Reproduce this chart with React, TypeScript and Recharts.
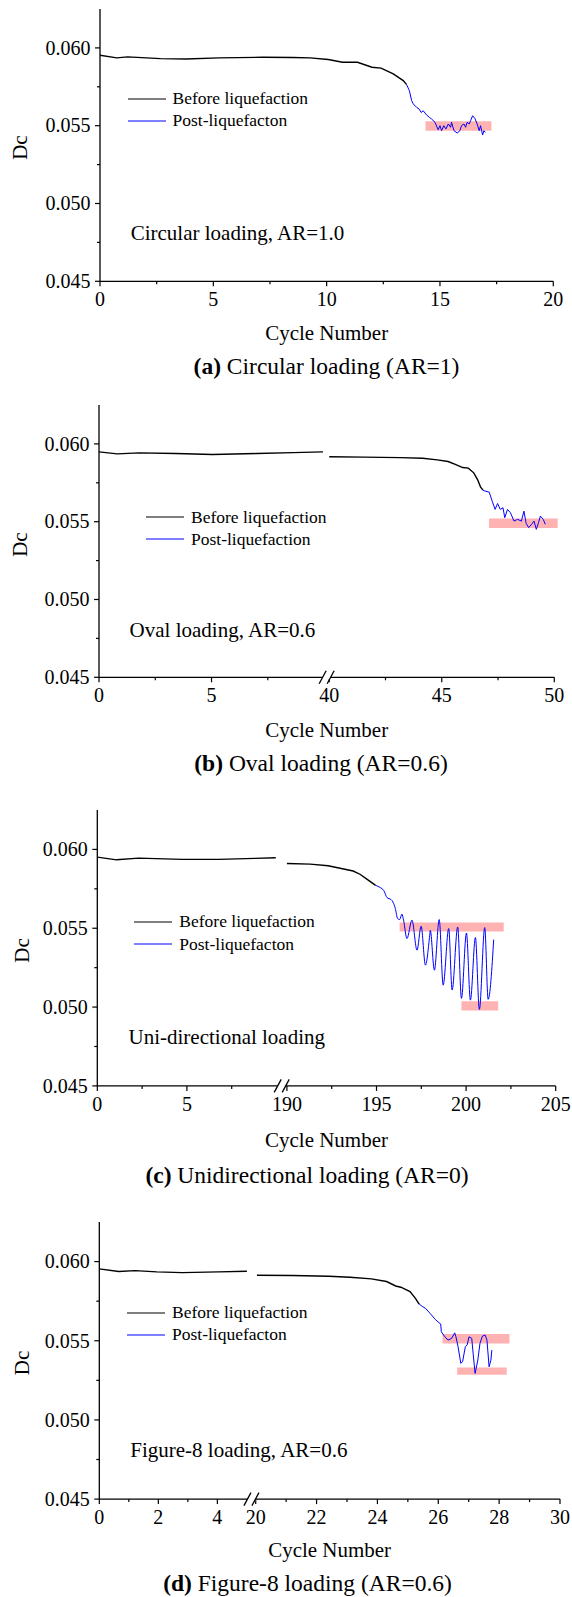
// Dc vs cycle number, four loading paths stacked (a)-(d).
// Broken x axes are emulated by mapping cycle numbers onto a continuous
// plot coordinate (xs) and labelling the ticks with the real cycle values.

import { LineChart, Line, XAxis, YAxis, ReferenceArea, Legend } from "recharts";

const SERIF = '"Liberation Serif", "Times New Roman", serif';

type Pt = [number, number];
type Band = [number, number, number, number]; // x1, x2, y1, y2

// ---------- shared y axis ----------
const yMajor = [0.045, 0.05, 0.055, 0.06];
const yMinor = [0.0475, 0.0525, 0.0575];

// ---------- (a) circular loading ----------
const circBefore: Pt[] = [
  [0, 0.05953], [0.74, 0.05936], [1.22, 0.05942], [2.67, 0.05931], [3.8, 0.05929],
  [5.25, 0.05936], [7.18, 0.0594], [8.5, 0.05938], [9.27, 0.05936], [10.07, 0.05925],
  [10.7, 0.05908], [11.36, 0.05908], [12.0, 0.05876], [12.4, 0.0587], [12.94, 0.05833],
  [13.2, 0.05807], [13.38, 0.0579], [13.53, 0.05764],
];
const circPost: Pt[] = [
  [13.53, 0.05764], [13.65, 0.05725], [13.75, 0.05661], [13.82, 0.0564], [13.97, 0.05618],
  [14.08, 0.05607], [14.17, 0.05585], [14.26, 0.05596], [14.41, 0.05569], [14.53, 0.05554],
  [14.63, 0.05543], [14.78, 0.05522], [14.92, 0.05474], [15.0, 0.055], [15.07, 0.05468],
  [15.17, 0.055], [15.26, 0.05479], [15.37, 0.05511], [15.47, 0.0549], [15.51, 0.05522],
  [15.62, 0.05468], [15.76, 0.05453], [15.88, 0.05468], [15.95, 0.055], [16.06, 0.05511],
  [16.13, 0.0549], [16.2, 0.05522], [16.29, 0.05511], [16.35, 0.05532], [16.44, 0.05564],
  [16.54, 0.05547], [16.64, 0.05511], [16.73, 0.05468], [16.79, 0.055], [16.88, 0.0544],
  [16.94, 0.05468], [17.0, 0.05457],
];
const circBands: Band[] = [[14.36, 17.27, 0.05468, 0.05528]];
const circMajor = [0, 5, 10, 15, 20];
const circMinor = [2.5, 7.5, 12.5, 17.5];

// ---------- (b) oval loading ----------
const ovalBefore1: Pt[] = [
  [0, 0.05949], [0.81, 0.05936], [1.79, 0.05942], [3.41, 0.05938], [5.04, 0.05932],
  [7.0, 0.05938], [8.62, 0.05944], [9.95, 0.05949],
];
const ovalBefore2: Pt[] = [
  [40, 0.05917], [41.54, 0.05915], [43.17, 0.05912], [44.15, 0.05908], [44.8, 0.05897],
  [45.28, 0.05887], [45.6, 0.05868], [45.93, 0.05848], [46.18, 0.05844], [46.42, 0.05814],
  [46.59, 0.05771], [46.72, 0.05724], [46.83, 0.05703],
];
const ovalPost: Pt[] = [
  [46.83, 0.05703], [46.92, 0.05697], [47.11, 0.0569], [47.24, 0.05632], [47.37, 0.05579],
  [47.48, 0.05617], [47.6, 0.05579], [47.72, 0.0559], [47.8, 0.05526], [47.92, 0.05579],
  [48.05, 0.05558], [48.21, 0.05504], [48.37, 0.05515], [48.54, 0.05504], [48.65, 0.05568],
  [48.75, 0.05489], [48.86, 0.05462], [48.99, 0.05483], [49.1, 0.05504], [49.2, 0.05451],
  [49.3, 0.05494], [49.38, 0.05536], [49.51, 0.05515], [49.6, 0.05483],
];
const ovalBands: Band[] = [[47.1, 50.15, 0.0546, 0.0552]];
const ovalMajor = [0, 5, 40, 45, 50];
const ovalMinor = [2.5, 7.5, 42.5, 47.5];

// ---------- (c) unidirectional loading ----------
const uniBefore1: Pt[] = [
  [0, 0.05951], [1.08, 0.05934], [2.3, 0.05945], [4.74, 0.05937], [6.77, 0.05937],
  [8.8, 0.05943], [9.96, 0.05947],
];
const uniBefore2: Pt[] = [
  [190.0, 0.05911], [191.3, 0.05907], [192.3, 0.05896], [193.1, 0.05877], [193.7, 0.05863],
  [194.1, 0.05841], [194.5, 0.05808], [194.95, 0.05772],
];
const uniPost: Pt[] = [
  [194.95, 0.05772], [195.21, 0.05758], [195.4, 0.0574], [195.59, 0.05694], [195.81, 0.05682],
  [195.92, 0.05666], [196.05, 0.05625], [196.18, 0.05561], [196.29, 0.05555], [196.42, 0.05589],
  [196.51, 0.05551], [196.7, 0.05435], [196.98, 0.05551], [197.26, 0.05361], [197.49, 0.05513],
  [197.73, 0.05266], [197.97, 0.05456], [198.0, 0.05487], [198.23, 0.05234], [198.5, 0.05555],
  [198.72, 0.05139], [199.03, 0.05498], [199.22, 0.05108], [199.53, 0.05508], [199.74, 0.05055],
  [200.02, 0.0547], [200.24, 0.05044], [200.52, 0.05441], [200.74, 0.04985], [201.04, 0.05504],
  [201.23, 0.05049], [201.54, 0.05428],
];
const uniBands: Band[] = [
  [196.29, 202.1, 0.05479, 0.05537],
  [199.74, 201.79, 0.04979, 0.05037],
];
const uniMajor = [0, 5, 190, 195, 200, 205];
const uniMinor = [2.5, 7.5, 192.5, 197.5, 202.5];

// ---------- (d) figure-8 loading ----------
const fig8Before1: Pt[] = [
  [0, 0.05954], [0.66, 0.05937], [1.21, 0.05943], [1.95, 0.05935], [2.81, 0.0593],
  [4.04, 0.05935], [5.0, 0.05939],
];
const fig8Before2: Pt[] = [
  [20.04, 0.05914], [21.2, 0.05912], [22.4, 0.05907], [23.1, 0.05901], [23.8, 0.05891],
  [24.3, 0.05874], [24.6, 0.05846], [24.77, 0.05838], [25.07, 0.0581], [25.25, 0.05768],
  [25.37, 0.05732],
];
const fig8Post: Pt[] = [
  [25.37, 0.05732], [25.49, 0.05715], [25.58, 0.05705], [25.73, 0.05673], [25.9, 0.05635],
  [26.02, 0.05614], [26.08, 0.05606], [26.1, 0.05557], [26.2, 0.05529], [26.32, 0.05504],
  [26.44, 0.05515], [26.54, 0.0555], [26.58, 0.05525], [26.65, 0.05463], [26.74, 0.05358],
  [26.8, 0.05368], [26.89, 0.05463], [26.95, 0.05474], [27.01, 0.05525], [27.1, 0.05515],
  [27.15, 0.0541], [27.21, 0.05294], [27.3, 0.05378], [27.37, 0.05483], [27.45, 0.05529],
  [27.54, 0.05536], [27.6, 0.05504], [27.67, 0.05336], [27.73, 0.05378], [27.76, 0.05441],
];
const fig8Bands: Band[] = [
  [26.14, 28.34, 0.05483, 0.05542],
  [26.62, 28.25, 0.05285, 0.05331],
];
const fig8Major = [0, 2, 4, 20, 22, 24, 26, 28, 30];
const fig8Minor = [1, 3, 21, 23, 25, 27, 29];

// ---------- axis break segments ----------
interface Seg { from: number; at: number; k: number }

// pick the segment whose start is nearest below x (tolerant to values a hair under a segment start)
const mapX = (segs: Seg[], x: number) => {
  let s = segs[0];
  for (const g of segs) if (x >= g.from - 0.5) s = g;
  return s.at + (x - s.from) * s.k;
};

interface PanelCfg {
  top: number; bottom: number; left: number; right: number;
  segs: Seg[]; span: number; breakAt?: number;
  before: Pt[][]; post: Pt[]; smooth?: boolean;
  bands: Band[]; major: number[]; minor: number[];
  postName: string; note: string; tag: string; caption: string;
  titleY: number; capX: number; capY: number;
  dcX: number; dcY: number; legX: number; legY: number; legGap: number;
  noteX: number; noteY: number;
}

const panels: PanelCfg[] = [
  {
    top: 9.4, bottom: 281.7, left: 100, right: 553.3,
    segs: [{ from: 0, at: 0, k: 1 }], span: 20,
    before: [circBefore], post: circPost, bands: circBands,
    major: circMajor, minor: circMinor, postName: "Post-liquefacton",
    note: "Circular loading, AR=1.0", tag: "(a)", caption: "Circular loading (AR=1)",
    titleY: 333, capX: 326.5, capY: 365.7, dcX: 20, dcY: 148,
    legX: 127.5, legY: 98.5, legGap: 22.2, noteX: 130.7, noteY: 233.3,
  },
  {
    top: 405.4, bottom: 677.7, left: 99, right: 554.3,
    segs: [{ from: 0, at: 0, k: 1 }, { from: 40, at: 10.23, k: 1 }], span: 20.23, breakAt: 10.115,
    before: [ovalBefore1, ovalBefore2], post: ovalPost, bands: ovalBands,
    major: ovalMajor, minor: ovalMinor, postName: "Post-liquefaction",
    note: "Oval loading, AR=0.6", tag: "(b)", caption: "Oval loading (AR=0.6)",
    titleY: 730, capX: 321, capY: 763.3, dcX: 20, dcY: 545,
    legX: 146, legY: 517.3, legGap: 22, noteX: 129.6, noteY: 630,
  },
  {
    top: 809.6, bottom: 1085.5, left: 97.3, right: 555.7,
    segs: [{ from: 0, at: 0, k: 1 }, { from: 190, at: 10.58, k: 1 }], span: 25.58, breakAt: 10.29,
    before: [uniBefore1, uniBefore2], post: uniPost, smooth: true, bands: uniBands,
    major: uniMajor, minor: uniMinor, postName: "Post-liquefacton",
    note: "Uni-directional loading", tag: "(c)", caption: "Unidirectional loading (AR=0)",
    titleY: 1139.3, capX: 307, capY: 1175, dcX: 22, dcY: 950,
    legX: 134.3, legY: 922, legGap: 22.3, noteX: 128.5, noteY: 1037.3,
  },
  {
    top: 1222.1, bottom: 1499.2, left: 99.3, right: 560,
    segs: [{ from: 0, at: 0, k: 0.97 }, { from: 20, at: 5.14, k: 1 }], span: 15.14, breakAt: 5.0,
    before: [fig8Before1, fig8Before2], post: fig8Post, bands: fig8Bands,
    major: fig8Major, minor: fig8Minor, postName: "Post-liquefacton",
    note: "Figure-8 loading, AR=0.6", tag: "(d)", caption: "Figure-8 loading (AR=0.6)",
    titleY: 1550, capX: 307.5, capY: 1583.3, dcX: 22, dcY: 1363,
    legX: 127, legY: 1312.7, legGap: 22.3, noteX: 130.3, noteY: 1450,
  },
];

interface Mark { pos: number; label: string; kind: "major" | "minor" | "break" }

const TICK_FONT = 20;

const XTick = (props: any) => {
  const { x, y, payload, marks } = props;
  const m = (marks as Mark[]).find((t) => Math.abs(t.pos - payload.value) < 1e-6);
  if (!m) return null;
  if (m.kind === "break") {
    return (
      <g>
        <rect x={x - 4} y={y - 2} width={8} height={4} fill="#fff" />
        <line x1={x - 7.5} y1={y + 6.5} x2={x - 0.5} y2={y - 6.5} stroke="#000" strokeWidth={1.3} />
        <line x1={x + 0.5} y1={y + 6.5} x2={x + 7.5} y2={y - 6.5} stroke="#000" strokeWidth={1.3} />
      </g>
    );
  }
  const len = m.kind === "major" ? 5 : 3;
  return (
    <g>
      <line x1={x} y1={y} x2={x} y2={y + len} stroke="#000" strokeWidth={1.2} />
      {m.kind === "major" && (
        <text x={x} y={y + 25} textAnchor="middle" style={{ fontFamily: SERIF, fontSize: TICK_FONT }} fill="#000">
          {m.label}
        </text>
      )}
    </g>
  );
};

const YTick = (props: any) => {
  const { x, y, payload } = props;
  const major = yMajor.some((v) => Math.abs(v - payload.value) < 1e-9);
  return (
    <g>
      <line x1={x - (major ? 5 : 3)} y1={y} x2={x} y2={y} stroke="#000" strokeWidth={1.2} />
      {major && (
        <text x={x - 9.5} y={y} dy="0.34em" textAnchor="end" style={{ fontFamily: SERIF, fontSize: TICK_FONT }} fill="#000">
          {Number(payload.value).toFixed(3)}
        </text>
      )}
    </g>
  );
};

const LegendBox = ({ payload, gap }: any) => (
  <div style={{ fontFamily: SERIF, fontSize: 17.5, color: "#000" }}>
    {(payload || [])
      .filter((p: any) => p.type !== "none")
      .map((p: any) => (
        <div key={p.value} style={{ display: "flex", alignItems: "center", height: gap, whiteSpace: "nowrap" }}>
          <svg width={38} height={4} style={{ display: "block" }}>
            <line x1={0} y1={2} x2={38} y2={2} stroke={p.color} strokeWidth={1.2} />
          </svg>
          <span style={{ marginLeft: 7 }}>{p.value}</span>
        </div>
      ))}
  </div>
);

const PAD = 10;

const Panel = ({ c }: { c: PanelCfg }) => {
  const base = c.top - PAD;
  const axisH = 2 * (c.titleY - c.bottom);
  const h = PAD + (c.bottom - c.top) + axisH;
  const rows = (pts: Pt[]) => pts.map(([x, y]) => ({ xs: mapX(c.segs, x), y }));

  const marks: Mark[] = [
    ...c.major.map((v) => ({ pos: mapX(c.segs, v), label: String(v), kind: "major" as const })),
    ...c.minor.map((v) => ({ pos: mapX(c.segs, v), label: "", kind: "minor" as const })),
  ];
  if (c.breakAt != null) marks.push({ pos: c.breakAt, label: "", kind: "break" });

  const dcY = c.dcY - base;
  const titleY = c.titleY - base;
  const midX = (c.left + c.right) / 2;

  return (
    <>
      <div style={{ position: "absolute", left: 0, top: base }}>
        <LineChart width={572} height={h} margin={{ top: PAD, right: 572 - c.right, bottom: 0, left: 0 }}>
          <XAxis
            type="number"
            dataKey="xs"
            domain={[0, c.span]}
            allowDataOverflow
            ticks={marks.map((m) => m.pos)}
            interval={0}
            tick={(p: any) => <XTick {...p} marks={marks} />}
            tickLine={false}
            tickSize={0}
            tickMargin={0}
            height={axisH}
            axisLine={{ stroke: "#000", strokeWidth: 1.3 }}
            label={{
              content: () => (
                <text
                  x={midX}
                  y={titleY}
                  dy="0.34em"
                  textAnchor="middle"
                  style={{ fontFamily: SERIF, fontSize: 21 }}
                  fill="#000"
                >
                  Cycle Number
                </text>
              ),
            }}
          />
          <YAxis
            type="number"
            domain={[0.045, 0.0625]}
            allowDataOverflow
            ticks={[...yMajor, ...yMinor]}
            interval={0}
            tick={(p: any) => <YTick {...p} />}
            tickLine={false}
            tickSize={0}
            tickMargin={0}
            width={c.left}
            axisLine={{ stroke: "#000", strokeWidth: 1.3 }}
            label={{
              content: () => (
                <text
                  x={c.dcX}
                  y={dcY}
                  transform={`rotate(-90 ${c.dcX} ${dcY})`}
                  textAnchor="middle"
                  dominantBaseline="central"
                  style={{ fontFamily: SERIF, fontSize: 21 }}
                  fill="#000"
                >
                  Dc
                </text>
              ),
            }}
          />
          {c.bands.map(([x1, x2, y1, y2], i) => (
            <ReferenceArea
              key={i}
              x1={mapX(c.segs, x1)}
              x2={mapX(c.segs, x2)}
              y1={y1}
              y2={y2}
              fill="#ff0000"
              fillOpacity={0.3}
              stroke="none"
              ifOverflow="visible"
            />
          ))}
          {c.before.map((seg, i) => (
            <Line
              key={`b${i}`}
              data={rows(seg)}
              dataKey="y"
              name="Before liquefaction"
              legendType={i === 0 ? "line" : "none"}
              type="linear"
              stroke="#000"
              strokeWidth={1.4}
              dot={false}
              activeDot={false}
              isAnimationActive={false}
            />
          ))}
          <Line
            data={rows(c.post)}
            dataKey="y"
            name={c.postName}
            type={c.smooth ? "monotone" : "linear"}
            stroke="#0000ff"
            strokeWidth={1}
            dot={false}
            activeDot={false}
            isAnimationActive={false}
          />
          <Legend
            layout="vertical"
            align="center"
            verticalAlign="middle"
            content={(p: any) => <LegendBox {...p} gap={c.legGap} />}
            wrapperStyle={{ left: c.legX, top: c.legY - base - c.legGap / 2, width: 260 }}
          />
        </LineChart>
      </div>
      <div
        style={{
          position: "absolute", left: c.noteX, top: c.noteY - 10.5,
          fontFamily: SERIF, fontSize: 21, lineHeight: "21px", whiteSpace: "nowrap", color: "#000",
        }}
      >
        {c.note}
      </div>
      <div
        style={{
          position: "absolute", left: c.capX - 250, width: 500, top: c.capY - 12, textAlign: "center",
          fontFamily: SERIF, fontSize: 23.5, lineHeight: "24px", whiteSpace: "nowrap", color: "#000",
        }}
      >
        <b>{c.tag}</b> {c.caption}
      </div>
    </>
  );
};

export default function App() {
  return (
    <div style={{ position: "absolute", left: 0, top: 0, width: 572, height: 1597, background: "#fff" }}>
      {panels.map((c) => (
        <Panel key={c.tag} c={c} />
      ))}
    </div>
  );
}
